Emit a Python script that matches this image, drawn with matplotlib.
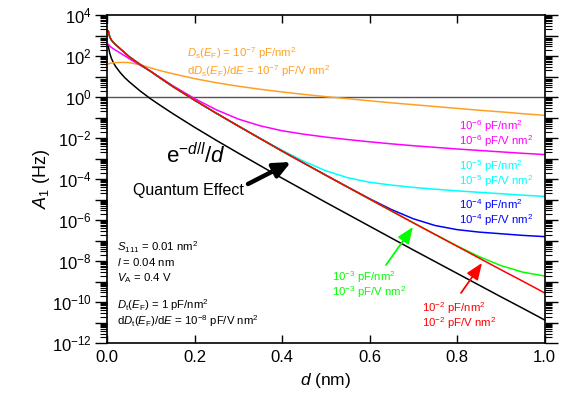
import numpy as np
import matplotlib
matplotlib.use("Agg")
import matplotlib.pyplot as plt
from matplotlib.patches import FancyArrowPatch
from matplotlib.ticker import FixedLocator, FuncFormatter, NullFormatter

plt.rcParams['font.family'] = ['Liberation Sans', 'DejaVu Sans']
plt.rcParams['mathtext.fontset'] = 'custom'
plt.rcParams['mathtext.rm'] = 'Liberation Sans'
plt.rcParams['mathtext.it'] = 'Liberation Sans:italic'
plt.rcParams['mathtext.bf'] = 'Liberation Sans:bold'

# electrode-molecule distance (nm)
d_nm = [0.003, 0.006, 0.01, 0.015, 0.02, 0.03, 0.04, 0.05, 0.075, 0.1, 0.125, 0.15,
        0.2, 0.25, 0.3, 0.35, 0.4, 0.45, 0.5, 0.55, 0.6, 0.65, 0.7, 0.75, 0.8,
        0.85, 0.9, 0.95, 1.0]

# log10 of A1 (Hz) for each surface density of states D_s
logA_1e7 = [1.62, 1.64, 1.66, 1.67, 1.68, 1.69, 1.69, 1.68, 1.58, 1.42, 1.27, 1.14,
            0.90, 0.70, 0.53, 0.38, 0.25, 0.13, 0.02, -0.08, -0.18, -0.28, -0.37,
            -0.46, -0.55, -0.64, -0.72, -0.81, -0.89]
logA_1e6 = [2.57, 2.50, 2.42, 2.35, 2.28, 2.15, 2.02, 1.88, 1.56, 1.25, 0.91, 0.56,
            -0.07, -0.62, -1.07, -1.40, -1.64, -1.81, -1.95, -2.07, -2.18, -2.28,
            -2.37, -2.45, -2.53, -2.60, -2.67, -2.74, -2.80]
logA_1e5 = [3.22, 2.95, 2.78, 2.65, 2.55, 2.36, 2.17, 1.98, 1.60, 1.25, 0.88, 0.52,
            -0.15, -0.79, -1.40, -2.01, -2.59, -3.13, -3.59, -3.93, -4.15, -4.29,
            -4.40, -4.49, -4.57, -4.64, -4.71, -4.78, -4.84]
logA_1e4 = [3.22, 2.95, 2.78, 2.65, 2.55, 2.36, 2.17, 1.98, 1.60, 1.25, 0.88, 0.52,
            -0.15, -0.79, -1.41, -2.02, -2.63, -3.22, -3.80, -4.38, -4.95, -5.48,
            -5.93, -6.26, -6.46, -6.58, -6.66, -6.74, -6.80]
logA_1e3 = [3.22, 2.95, 2.78, 2.65, 2.55, 2.36, 2.17, 1.98, 1.60, 1.25, 0.88, 0.52,
            -0.15, -0.79, -1.41, -2.02, -2.63, -3.22, -3.81, -4.39, -4.97, -5.55,
            -6.12, -6.69, -7.25, -7.77, -8.21, -8.53, -8.72]
logA_1e2 = [3.22, 2.95, 2.78, 2.65, 2.55, 2.36, 2.17, 1.98, 1.60, 1.25, 0.88, 0.52,
            -0.15, -0.79, -1.41, -2.02, -2.63, -3.22, -3.81, -4.39, -4.97, -5.55,
            -6.13, -6.70, -7.27, -7.84, -8.41, -8.97, -9.54]
# pure tunnelling factor exp(-d/l)/d
logA_exp = [2.49, 2.16, 1.89, 1.66, 1.48, 1.20, 0.96, 0.76, 0.31, -0.09, -0.45, -0.80,
            -1.47, -2.11, -2.73, -3.34, -3.95, -4.54, -5.13, -5.71, -6.29, -6.87,
            -7.45, -8.02, -8.59, -9.16, -9.73, -10.29, -10.86]

c_orange = '#FFA024'
c_magenta = '#FF00FF'
c_cyan = '#00FFFF'
c_blue = '#0000FF'
c_green = '#00FF00'
c_red = '#FF0000'

fig = plt.figure(figsize=(5.75, 4.08), dpi=100)
ax = fig.add_axes([107/575, 1-343.3/408, (544.5-107)/575, (343.3-15)/408])

d = np.array(d_nm)
ax.axhline(1.0, color='#555555', lw=1.0, zorder=1)

series = [(logA_exp, 'black'), (logA_1e7, c_orange), (logA_1e6, c_magenta),
          (logA_1e5, c_cyan), (logA_1e4, c_blue), (logA_1e3, c_green),
          (logA_1e2, c_red)]
for vals, col in series:
    ax.plot(d, 10.0 ** np.array(vals), color=col, lw=1.1, zorder=2)

ax.set_yscale('log')
ax.set_xlim(0, 1.0)
ax.set_ylim(1e-12, 1e4)

ax.set_xticks([0.0, 0.2, 0.4, 0.6, 0.8, 1.0])
ax.xaxis.set_major_formatter(FuncFormatter(lambda v, p: f"{v:.1f}"))
ax.yaxis.set_major_locator(FixedLocator([10.0 ** k for k in range(-12, 5)]))
ax.yaxis.set_minor_locator(FixedLocator([m * 10.0 ** k for k in range(-12, 4) for m in range(2, 10)]))

def ylab(v, p):
    k = int(round(np.log10(v)))
    return r"10$^{%d}$" % k if k % 2 == 0 else ""
ax.yaxis.set_major_formatter(FuncFormatter(ylab))
ax.yaxis.set_minor_formatter(NullFormatter())

ax.tick_params(axis='x', which='major', direction='in', length=6, width=1,
               top=True, bottom=True, labelsize=12, pad=5)
ax.tick_params(axis='y', which='major', direction='out', length=9, width=1,
               left=True, right=True, labelsize=12, pad=2)
ax.tick_params(axis='y', which='minor', direction='out', length=5, width=0.8,
               left=True, right=True)
for s in ax.spines.values():
    s.set_linewidth(1.2)

ax.set_xlabel(r"$d$ (nm)", fontsize=12.5, labelpad=4)
ax.set_ylabel(r"$A_1$ (Hz)", fontsize=13)
ax.yaxis.set_label_coords(-0.125, 0.5)

def px(x, y):
    return (x / 575, 1 - y / 408)

def note(x, y, s, col='black', size=8.2):
    fig.text(*px(x, y), s, color=col, fontsize=size, va='baseline')

note(187, 57, r"$D_{\rm s}(E_{\rm F})$ = 10$^{-7}$ pF/nm$^2$", c_orange)
note(187, 75, r"d$D_{\rm s}(E_{\rm F})$/d$E$ = 10$^{-7}$ pF/V nm$^2$", c_orange)

for (x0, yb, col, e) in [(459, 130, c_magenta, -6), (459, 170, c_cyan, -5),
                         (459, 209, c_blue, -4), (332, 281, c_green, -3),
                         (422, 312, c_red, -2)]:
    note(x0, yb, r"10$^{%d}$ pF/nm$^2$" % e, col)
    note(x0, yb + 15, r"10$^{%d}$ pF/V nm$^2$" % e, col)

fig.text(*px(166, 156), r"e$^{-d/l}$/$d$", fontsize=16, va='center')
fig.text(*px(133, 191), "Quantum Effect", fontsize=11.5, va='center')

note(117, 251, r"$S_{111}$ = 0.01 nm$^2$")
note(117, 266, r"$l$ = 0.04 nm")
note(117, 281, r"$V_{\rm A}$ = 0.4 V")
note(117, 309, r"$D_{\rm t}(E_{\rm F})$ = 1 pF/nm$^2$")
note(117, 325, r"d$D_{\rm t}(E_{\rm F})$/d$E$ = 10$^{-8}$ pF/V nm$^2$")

def arrow(x0, y0, x1, y1, col, lw, hw, hl):
    fig.patches.append(FancyArrowPatch(
        px(x0, y0), px(x1, y1), transform=fig.transFigure,
        arrowstyle=f"-|>,head_width={hw},head_length={hl}", color=col, lw=lw,
        mutation_scale=10, shrinkA=0, shrinkB=0))

arrow(386, 265, 413, 227, c_green, 1.3, 0.4, 1.0)
arrow(461, 293, 482, 263, c_red, 1.3, 0.4, 1.0)
arrow(248, 184, 291, 162, 'black', 3.2, 0.45, 1.0)

fig.savefig("out.png", dpi=100)
